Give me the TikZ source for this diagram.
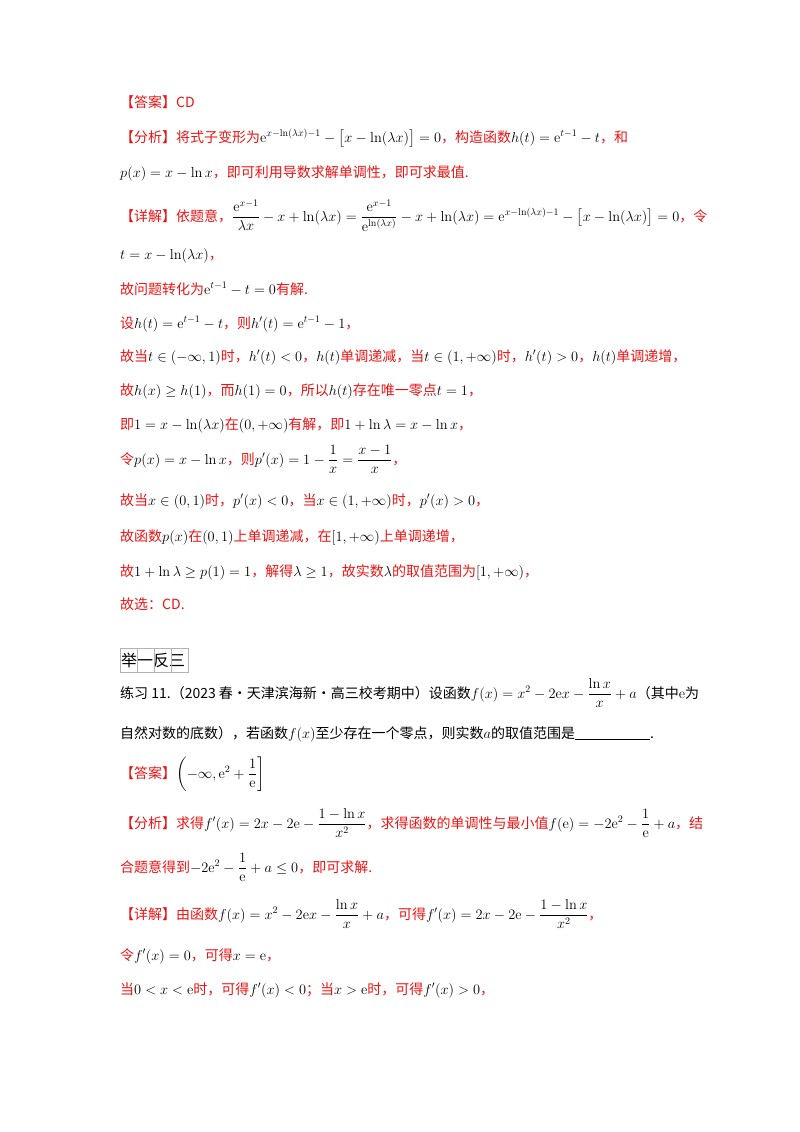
\documentclass[tikz,border=0pt]{standalone}
\usepackage[no-math]{fontspec}
\setmainfont{Noto Sans CJK SC}
\usepackage{amsmath}
\definecolor{myred}{RGB}{235,20,20}
\newcommand{\mm}[1]{{\color{black}$\displaystyle #1$}}
\tikzset{ln/.style={anchor=base west,inner sep=0pt,font=\fontsize{14}{16}\selectfont,text=myred},
bl/.style={ln,text=black}}
\begin{document}
\begin{tikzpicture}[x=1pt,y=1pt]
\useasboundingbox (0,0) rectangle (800,-1132);
\node[ln] (l1) at (120,-107) {【答案】CD};
\node[ln] (l2) at (120,-142) {【分析】将式子变形为\mm{\mathrm{e}^{x-\ln(\lambda x)-1}-\big[x-\ln(\lambda x)\big]=0}，构造函数\mm{h(t)=\mathrm{e}^{t-1}-t}，和};
\node[ln] (l3) at (120,-177) {\mm{p(x)=x-\ln x}，即可利用导数求解单调性，即可求最值.};
\node[ln] (l4) at (120,-221) {【详解】依题意，\mm{\frac{\mathrm{e}^{x-1}}{\lambda x}-x+\ln(\lambda x)=\frac{\mathrm{e}^{x-1}}{\mathrm{e}^{\ln(\lambda x)}}-x+\ln(\lambda x)=\mathrm{e}^{x-\ln(\lambda x)-1}-\big[x-\ln(\lambda x)\big]=0}，令};
\node[ln] (l5) at (120,-259) {\mm{t=x-\ln(\lambda x)}，};
\node[ln] (l6) at (120,-294) {故问题转化为\mm{\mathrm{e}^{t-1}-t=0}有解.};
\node[ln] (l7) at (120,-328) {设\mm{h(t)=\mathrm{e}^{t-1}-t}，则\mm{h'(t)=\mathrm{e}^{t-1}-1}，};
\node[ln] (l8) at (120,-361) {故当\mm{t\in(-\infty,1)}时，\mm{h'(t)<0}，\mm{h(t)}单调递减，当\mm{t\in(1,+\infty)}时，\mm{h'(t)>0}，\mm{h(t)}单调递增，};
\node[ln] (l9) at (120,-395) {故\mm{h(x)\ge h(1)}，而\mm{h(1)=0}，所以\mm{h(t)}存在唯一零点\mm{t=1}，};
\node[ln] (l10) at (120,-429) {即\mm{1=x-\ln(\lambda x)}在\mm{(0,+\infty)}有解，即\mm{1+\ln\lambda=x-\ln x}，};
\node[ln] (l11) at (120,-464) {令\mm{p(x)=x-\ln x}，则\mm{p'(x)=1-\frac{1}{x}=\frac{x-1}{x}}，};
\node[ln] (l12) at (120,-505) {故当\mm{x\in(0,1)}时，\mm{p'(x)<0}，当\mm{x\in(1,+\infty)}时，\mm{p'(x)>0}，};
\node[ln] (l13) at (120,-541) {故函数\mm{p(x)}在\mm{(0,1)}上单调递减，在\mm{[1,+\infty)}上单调递增，};
\node[ln] (l14) at (120,-576) {故\mm{1+\ln\lambda\ge p(1)=1}，解得\mm{\lambda\ge1}，故实数\mm{\lambda}的取值范围为\mm{[1,+\infty)}，};
\node[ln] (l15) at (120,-609) {故选：CD.};
\node[bl,font=\fontsize{16}{18}\selectfont] (jy) at (121,-666) {举一反三};
\draw[gray!60] (120,-648) rectangle (188,-672) (137,-648)--(137,-672) (154,-648)--(154,-672) (171,-648)--(171,-672);
\node[bl] (p1) at (120,-698) {练习 11.（2023 春·天津滨海新·高三校考期中）设函数\mm{f(x)=x^2-2\mathrm{e}x-\frac{\ln x}{x}+a}（其中\mm{\mathrm{e}}为};
\node[bl] (p2) at (120,-738) {自然对数的底数），若函数\mm{f(x)}至少存在一个零点，则实数\mm{a}的取值范围是\rule[-2pt]{75pt}{0.6pt}.};
\node[ln] (a2) at (120,-778) {【答案】\mm{\left(-\infty,\mathrm{e}^2+\frac{1}{\mathrm{e}}\right]}};
\node[ln] (f2) at (120,-828) {【分析】求得\mm{f'(x)=2x-2\mathrm{e}-\frac{1-\ln x}{x^2}}，求得函数的单调性与最小值\mm{f(\mathrm{e})=-2\mathrm{e}^2-\frac{1}{\mathrm{e}}+a}，结};
\node[ln] (f3) at (120,-872) {合题意得到\mm{-2\mathrm{e}^2-\frac{1}{\mathrm{e}}+a\le0}，即可求解.};
\node[ln] (d2) at (120,-919) {【详解】由函数\mm{f(x)=x^2-2\mathrm{e}x-\frac{\ln x}{x}+a}，可得\mm{f'(x)=2x-2\mathrm{e}-\frac{1-\ln x}{x^2}}，};
\node[ln] (d3) at (120,-960) {令\mm{f'(x)=0}，可得\mm{x=\mathrm{e}}，};
\node[ln] (d4) at (120,-994) {当\mm{0<x<\mathrm{e}}时，可得\mm{f'(x)<0}；当\mm{x>\mathrm{e}}时，可得\mm{f'(x)>0}，};
\end{tikzpicture}
\end{document}
